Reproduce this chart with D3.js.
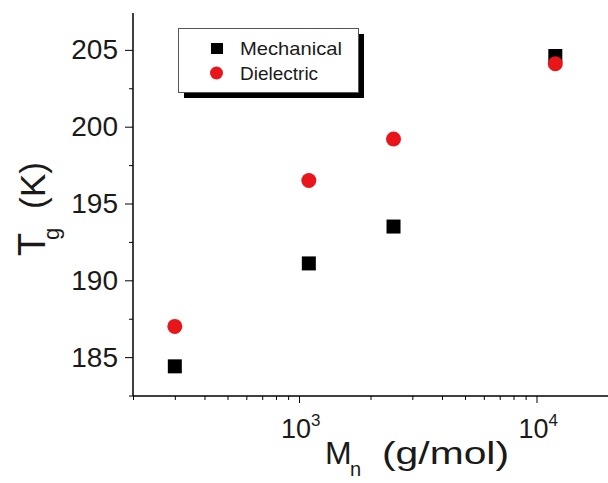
<!DOCTYPE html>
<html>
<head>
<meta charset="utf-8">
<script src="https://cdn.jsdelivr.net/npm/d3@7"></script>
<style>
  body { margin: 0; background: #fff; }
  text { font-family: "Liberation Sans", Arial, sans-serif; }
</style>
</head>
<body>
<svg id="chart" width="608" height="483"></svg>
<script>
var mn = [300, 1100, 2500, 12000];
var mechanical = [184.4, 191.1, 193.5, 204.6];
var dielectric = [187.0, 196.5, 199.2, 204.1];
var yTicks = [185, 190, 195, 200, 205];
var xDecades = [1000, 10000];

var svg = d3.select("#chart");

var margin = {left: 133, top: 13, right: 608, bottom: 396};

var x = d3.scaleLog().domain([200, 20000]).range([margin.left, margin.right]);
var y = d3.scaleLinear().domain([182.47, 207.4]).range([margin.bottom, margin.top]);

// y axis
var yMinor = d3.range(182.5, 207.5, 2.5).filter(v => yTicks.indexOf(v) < 0);
svg.append("g")
    .attr("transform", "translate(" + margin.left + ",0)")
    .call(d3.axisLeft(y).tickValues(yMinor).tickSize(4).tickFormat(""))
    .call(g => g.select(".domain").remove());
var yAxis = svg.append("g")
    .attr("transform", "translate(" + margin.left + ",0)")
    .call(d3.axisLeft(y).tickValues(yTicks).tickSize(8).tickPadding(7).tickFormat(d3.format("d")));
yAxis.select(".domain").attr("d", "M0," + margin.top + "V" + margin.bottom).attr("stroke-width", 1.5);
yAxis.selectAll("text").attr("font-size", 28).attr("fill", "#1a1a1a");

// x axis
var xMinor = [];
[100, 1000, 10000].forEach(function (dec) {
  for (var k = 2; k <= 9; k++) {
    var v = dec * k;
    if (v >= 200 && v <= 20000) xMinor.push(v);
  }
});
svg.append("g")
    .attr("transform", "translate(0," + margin.bottom + ")")
    .call(d3.axisBottom(x).tickValues(xMinor).tickSize(4).tickFormat(""))
    .call(g => g.select(".domain").remove());
var xAxis = svg.append("g")
    .attr("transform", "translate(0," + margin.bottom + ")")
    .call(d3.axisBottom(x).tickValues(xDecades).tickSize(7).tickFormat(""));
xAxis.select(".domain").attr("d", "M" + margin.left + ",0H" + margin.right).attr("stroke-width", 1.5);

xDecades.forEach(function (v) {
  var t = svg.append("text")
      .attr("x", x(v) - 18)
      .attr("y", 438)
      .attr("font-size", 27)
      .attr("fill", "#1a1a1a");
  t.append("tspan").text("10");
  t.append("tspan").attr("dy", -12).attr("font-size", 17).text(Math.round(Math.log10(v)));
});

// axis titles
svg.append("text").attr("x", 325).attr("y", 464).attr("font-size", 32).attr("fill", "#1a1a1a").text("M");
svg.append("text").attr("x", 350).attr("y", 476).attr("font-size", 20).attr("fill", "#1a1a1a").text("n");
svg.append("text").attr("x", 382).attr("y", 464).attr("font-size", 32).attr("fill", "#1a1a1a")
    .attr("textLength", 127).attr("lengthAdjust", "spacingAndGlyphs").text("(g/mol)");

var yt = svg.append("g").attr("transform", "translate(45,0) rotate(-90)");
yt.append("text").attr("x", -256).attr("y", 0).attr("font-size", 38).attr("fill", "#1a1a1a").text("T");
yt.append("text").attr("x", -240).attr("y", 14).attr("font-size", 22).attr("fill", "#1a1a1a").text("g");
yt.append("text").attr("x", -209).attr("y", 0).attr("font-size", 35).attr("fill", "#1a1a1a")
    .attr("textLength", 47).attr("lengthAdjust", "spacingAndGlyphs").text("(K)");

// points
var sq = 14;
svg.append("g").selectAll("rect")
    .data(mn.map((m, i) => [m, mechanical[i]]))
    .join("rect")
    .attr("x", d => x(d[0]) - sq / 2)
    .attr("y", d => y(d[1]) - sq / 2)
    .attr("width", sq)
    .attr("height", sq)
    .attr("fill", "#000");

svg.append("g").selectAll("circle")
    .data(mn.map((m, i) => [m, dielectric[i]]))
    .join("circle")
    .attr("cx", d => x(d[0]))
    .attr("cy", d => y(d[1]))
    .attr("r", 7.5)
    .attr("fill", "#e8151b");

// legend
var lg = svg.append("g");
lg.append("rect").attr("x", 184).attr("y", 34).attr("width", 180).attr("height", 64).attr("fill", "#000");
lg.append("rect").attr("x", 178.5).attr("y", 28.5).attr("width", 180).attr("height", 64)
    .attr("fill", "#fff").attr("stroke", "#555").attr("stroke-width", 1);
lg.append("rect").attr("x", 211).attr("y", 43).attr("width", 12).attr("height", 11).attr("fill", "#000");
lg.append("circle").attr("cx", 216.5).attr("cy", 73).attr("r", 6.5).attr("fill", "#e8151b");
lg.append("text").attr("x", 240).attr("y", 55).attr("font-size", 19).attr("fill", "#1a1a1a")
    .attr("textLength", 102).attr("lengthAdjust", "spacingAndGlyphs").text("Mechanical");
lg.append("text").attr("x", 240).attr("y", 80).attr("font-size", 19).attr("fill", "#1a1a1a").text("Dielectric");
</script>
</body>
</html>
